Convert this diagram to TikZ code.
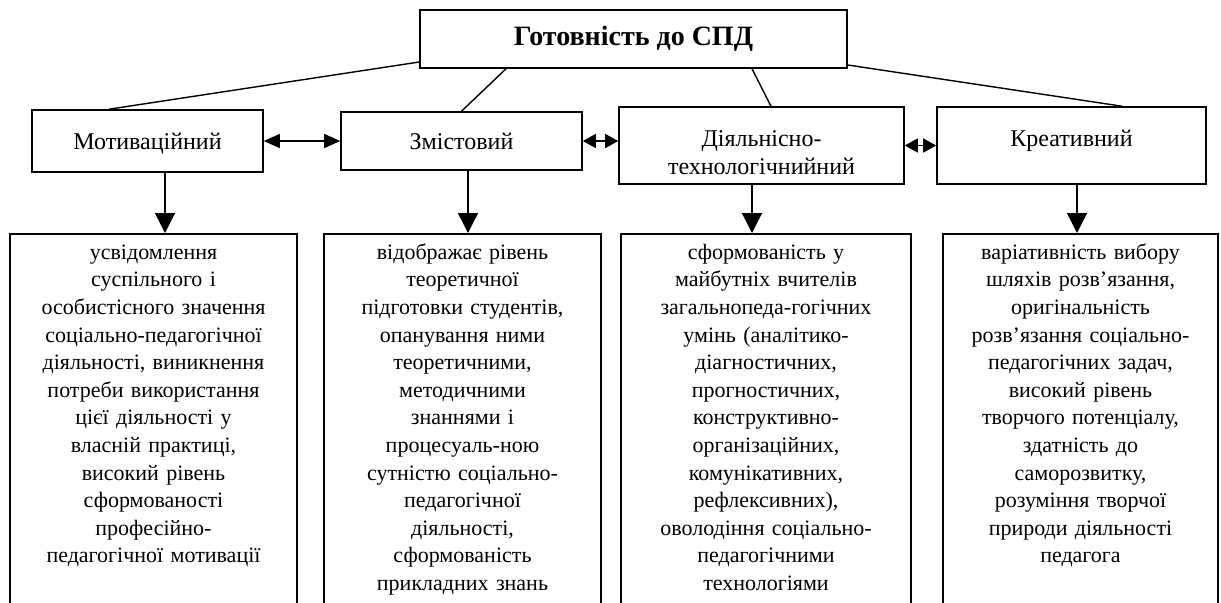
\documentclass[tikz,border=0pt]{standalone}
\usepackage{fontspec}
\setmainfont{Liberation Serif}
\usetikzlibrary{arrows.meta, calc}

\begin{document}
\begin{tikzpicture}[x=0.5pt, y=-0.5pt,
        % 1 unit = 1 px, y goes down
        every node/.style={font=\fontsize{12pt}{13.8pt}\selectfont},
        every edge/.style={draw=black, line width=0.7pt},
        head/.style={draw=black, line width=0.8pt, inner sep=0pt, align=center,
            font=\fontsize{14pt}{16pt}\selectfont\bfseries},
        comp/.style={draw=black, line width=0.8pt, inner sep=0pt, align=center},
        desc/.style={draw=black, line width=0.8pt, anchor=north, align=center,
            font=\fontsize{11pt}{13.8pt}\selectfont,
            inner xsep=2pt, inner ysep=2pt, text height=10.75pt, text depth=200pt},
        dbl/.style={{Triangle[length=8pt,width=7pt]}-{Triangle[length=8pt,width=7pt]}},
        dbls/.style={{Triangle[length=6.5pt,width=7pt]}-{Triangle[length=6.5pt,width=7pt]}},
        down/.style={-{Triangle[length=10pt,width=10pt]}},]

        \clip (0,0) rectangle (1221,602);

        \node[head, minimum width=213.5pt, minimum height=29pt] (n_top) at (633.5,39) {Готовність до СПД};

        \node[comp, text width=115.5pt, text height=19.5pt, text depth=11.5pt] (n_mot) at (147.5,141) {Мотиваційний};
        \node[comp, text width=120.5pt, text height=18.5pt, text depth=10.5pt] (n_zm) at (461.5,141) {Змістовий};
        \node[comp, text width=142.5pt, text height=19.75pt, text depth=18.75pt] (n_dt) at (761.5,145.5) {Діяльнісно-\\технологічнийний};
        \node[comp, text width=134.5pt, text height=19.75pt, text depth=18.75pt] (n_kr) at (1071.5,145.5) {Креативний};

        \node[desc, text width=139.7pt] (t_mot) at (153.5,233) {усвідомлення\\ суспільного і\\ особистісного значення\\ соціально-педагогічної\\ діяльності, виникнення\\ потреби використання\\ цієї діяльності у\\ власній практиці,\\ високий рівень\\ сформованості\\ професійно-\\ педагогічної мотивації};
        \node[desc, text width=134.7pt] (t_zm) at (462.5,233) {відображає рівень\\ теоретичної\\ підготовки студентів,\\ опанування ними\\ теоретичними,\\ методичними\\ знаннями і\\ процесуаль-ною\\ сутністю соціально-\\ педагогічної\\ діяльності,\\ сформованість\\ прикладних знань};
        \node[desc, text width=141.2pt] (t_dt) at (766,233) {сформованість у\\ майбутніх вчителів\\ загальнопеда-гогічних\\ умінь (аналітико-\\ діагностичних,\\ прогностичних,\\ конструктивно-\\ організаційних,\\ комунікативних,\\ рефлексивних),\\ оволодіння соціально-\\ педагогічними\\ технологіями};
        \node[desc, text width=133.7pt] (t_kr) at (1080.5,233) {варіативність вибору\\ шляхів розв’язання,\\ оригінальність\\ розв’язання соціально-\\ педагогічних задач,\\ високий рівень\\ творчого потенціалу,\\ здатність до\\ саморозвитку,\\ розуміння творчої\\ природи діяльності\\ педагога};

        % from the top box
        \path ($(n_top.west)+(0,23)$) edge ($(n_mot.north)+(-38.5,0)$);
        \path ($(n_top.south)+(-127.5,0)$) edge (n_zm.north);
        \path ($(n_top.south)+(118.5,0)$) edge ($(n_dt.north)+(9.5,0)$);
        \path ($(n_top.east)+(0,26)$) edge ($(n_kr.north)+(50.5,0)$);

        % between the components
        \path (n_mot.east) edge[dbl] (n_zm.west);
        \path (n_zm.east) edge[dbls] (n_zm.east -| n_dt.west);
        \path (n_dt.east) edge[dbls] (n_dt.east -| n_kr.west);

        % down to the descriptions
        \coordinate (d_mot) at ($(n_mot.south)+(17.5,0)$);
        \coordinate (d_zm) at ($(n_zm.south)+(6.5,0)$);
        \coordinate (d_dt) at ($(n_dt.south)+(-9.5,0)$);
        \coordinate (d_kr) at ($(n_kr.south)+(5.5,0)$);
        \path (d_mot) edge[down] (d_mot |- t_mot.north);
        \path (d_zm) edge[down] (d_zm |- t_zm.north);
        \path (d_dt) edge[down] (d_dt |- t_dt.north);
        \path (d_kr) edge[down] (d_kr |- t_kr.north);

    \end{tikzpicture}
\end{document}
